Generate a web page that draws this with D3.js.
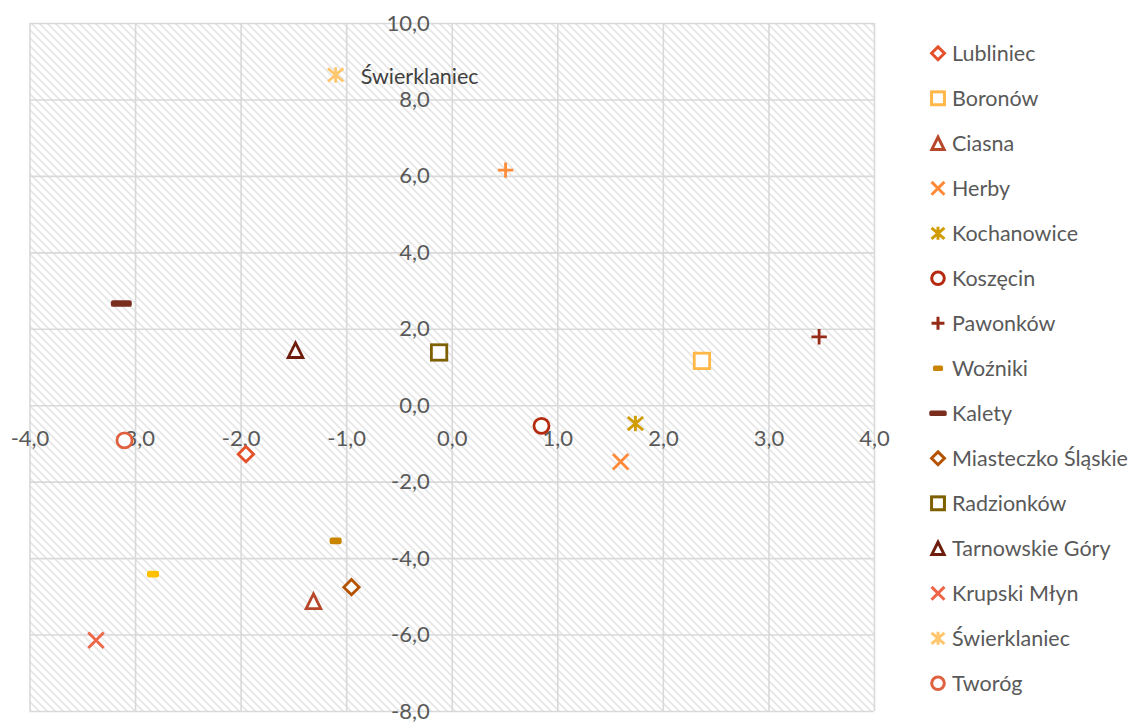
<!DOCTYPE html>
<html>
<head>
<meta charset="utf-8">
<script src="https://cdn.jsdelivr.net/npm/d3@7/dist/d3.min.js"></script>
<style>
  html, body { margin: 0; padding: 0; background: #fff; }
  svg { display: block; }
</style>
</head>
<body>
<svg id="chart" width="1134" height="722"></svg>
<script>
// ---- data ----
const seriesNames = ["Lubliniec", "Boronów", "Ciasna", "Herby", "Kochanowice", "Koszęcin", "Pawonków",
  "Woźniki", "Kalety", "Miasteczko Śląskie", "Radzionków", "Tarnowskie Góry", "Krupski Młyn",
  "Świerklaniec", "Tworóg", "Ożarowice", "Zbrosławice"];
const xValues = [-1.95, 2.37, -1.31, 1.60, 1.74, 0.85, 3.48, -1.10, -3.13, -0.95, -0.12, -1.48, -3.37, -1.10, -3.10, 0.51, -2.83];
const yValues = [-1.28, 1.16, -5.13, -1.48, -0.48, -0.54, 1.79, -3.55, 2.66, -4.76, 1.38, 1.44, -6.15, 8.64, -0.92, 6.15, -4.42];
const markerTypes = ["diamond", "square", "triangle", "x", "star", "circle", "plus", "dash", "longdash",
  "diamond", "square", "triangle", "x", "star", "circle", "plus", "dash"];
const seriesColors = ["#E4502A", "#FFB748", "#B8472A", "#FF8A3A", "#D19C00", "#B52A0E", "#952A16",
  "#C98400", "#7A2E1E", "#B45200", "#7F6000", "#6E1C0C", "#EE6547", "#FFC66E", "#DF613F", "#FF8C3A", "#FFC000"];
const legendCount = 15;           // the legend only shows the first 15 series
const labelledSeries = ["Świerklaniec"];
const xTicks = [-4, -3, -2, -1, 0, 1, 2, 3, 4];
const yTicks = [-8, -6, -4, -2, 0, 2, 4, 6, 8, 10];

// ---- layout ----
const svg = d3.select("#chart");
const plot = { left: 29.5, right: 874, top: 23, bottom: 711 };
const x = d3.scaleLinear().domain([-4, 4]).range([plot.left, plot.right]);
const y = d3.scaleLinear().domain([-8, 10]).range([plot.bottom, plot.top]);
const FONT = "Lato, 'Open Sans', sans-serif";
const loc = d3.formatLocale({ decimal: ",", thousands: " ", grouping: [3], currency: ["", ""], minus: "-" });
const fmt = loc.format(".1f");

// hatch pattern
const defs = svg.append("defs");
const pat = defs.append("pattern").attr("id", "hatch").attr("patternUnits", "userSpaceOnUse")
  .attr("width", 8).attr("height", 8);
pat.append("rect").attr("width", 8).attr("height", 8).attr("fill", "#fff");
pat.append("path").attr("d", "M0,0 L8,8 M-2,6 L2,10 M6,-2 L10,2")
  .attr("stroke", "#e6e6e6").attr("stroke-width", 1.6).attr("fill", "none");

svg.append("rect").attr("x", plot.left).attr("y", plot.top)
  .attr("width", plot.right - plot.left).attr("height", plot.bottom - plot.top)
  .attr("fill", "url(#hatch)");

// gridlines via axes
const gx = svg.append("g").attr("transform", `translate(0,${plot.bottom})`)
  .call(d3.axisBottom(x).tickValues(xTicks).tickSize(-(plot.bottom - plot.top)).tickFormat(""));
const gy = svg.append("g").attr("transform", `translate(${plot.left},0)`)
  .call(d3.axisLeft(y).tickValues(yTicks).tickSize(-(plot.right - plot.left)).tickFormat(""));
[gx, gy].forEach(g => {
  g.select(".domain").remove();
  g.selectAll(".tick line").attr("stroke", "#d9d9d9").attr("stroke-width", 1.6);
});

// axis labels
const xLab = svg.append("g").attr("transform", `translate(0,${y(0) + 33})`)
  .call(d3.axisBottom(x).tickValues(xTicks).tickSize(0).tickPadding(0).tickFormat(fmt));
xLab.select(".domain").remove();
xLab.selectAll("text").attr("dy", "0.35em").attr("y", 0);
const yLab = svg.append("g").attr("transform", `translate(${x(0) - 22},0)`)
  .call(d3.axisLeft(y).tickValues(yTicks).tickSize(0).tickPadding(0).tickFormat(fmt));
yLab.select(".domain").remove();
[xLab, yLab].forEach(g => g.selectAll("text")
  .attr("font-family", FONT).attr("font-size", 22).attr("fill", "#595959"));

// marker drawing
function drawMarker(g, type, color, s, swBase) {
  const sw = swBase;
  const st = { stroke: color, "stroke-width": sw, fill: "#fff" };
  const apply = (el, o) => { Object.entries(o).forEach(([k, v]) => el.attr(k, v)); return el; };
  const r = 7 * s;
  switch (type) {
    case "diamond":
      apply(g.append("path").attr("d", `M0,${-r}L${r},0L0,${r}L${-r},0Z`), st); break;
    case "square":
      apply(g.append("rect").attr("x", -r).attr("y", -r).attr("width", 2 * r).attr("height", 2 * r), st); break;
    case "triangle": {
      const h = r * 0.95;
      apply(g.append("path").attr("d", `M0,${-h}L${r * 0.95},${h}L${-r * 0.95},${h}Z`), st); break;
    }
    case "circle":
      apply(g.append("circle").attr("r", r * 0.98), st); break;
    case "x":
      g.append("path").attr("d", `M${-r},${-r}L${r},${r}M${r},${-r}L${-r},${r}`)
        .attr("stroke", color).attr("stroke-width", sw).attr("fill", "none"); break;
    case "star":
      g.append("path").attr("d", `M${-r},${-r * 0.85}L${r},${r * 0.85}M${r},${-r * 0.85}L${-r},${r * 0.85}M0,${-r}L0,${r}`)
        .attr("stroke", color).attr("stroke-width", sw).attr("fill", "none"); break;
    case "plus":
      g.append("path").attr("d", `M${-r},0L${r},0M0,${-r}L0,${r}`)
        .attr("stroke", color).attr("stroke-width", sw).attr("fill", "none"); break;
    case "dash":
      g.append("rect").attr("x", -5.5 * s).attr("y", -3 * s).attr("width", 11 * s).attr("height", 6 * s)
        .attr("rx", 2 * s).attr("fill", color); break;
    case "longdash":
      g.append("rect").attr("x", -9.5 * s).attr("y", -3 * s).attr("width", 19 * s).attr("height", 6 * s)
        .attr("rx", 2 * s).attr("fill", color); break;
  }
}

// points
const points = seriesNames.map((n, i) => ({ name: n, x: xValues[i], y: yValues[i], type: markerTypes[i], color: seriesColors[i] }));
svg.append("g").selectAll("g").data(points).join("g")
  .attr("transform", d => `translate(${x(d.x)},${y(d.y)})`)
  .each(function (d) { drawMarker(d3.select(this), d.type, d.color, 1.1, 2.8); });

// data label
svg.append("g").selectAll("text").data(points.filter(p => labelledSeries.includes(p.name))).join("text")
  .attr("x", d => x(d.x) + 25).attr("y", d => y(d.y) + 1).attr("dy", "0.35em")
  .attr("font-family", FONT).attr("font-size", 21.5).attr("fill", "#404040").text(d => d.name);

// legend
const legend = svg.append("g").selectAll("g").data(points.slice(0, legendCount)).join("g")
  .attr("transform", (d, i) => `translate(938,${53.3 + i * 45})`);
legend.each(function (d) {
  const g = d3.select(this).append("g");
  drawMarker(g, d.type, d.color, 0.92, 3);
});
legend.append("text").attr("x", 14).attr("dy", "0.35em")
  .attr("font-family", FONT).attr("font-size", 21.5).attr("fill", "#595959").text(d => d.name);
</script>
</body>
</html>
